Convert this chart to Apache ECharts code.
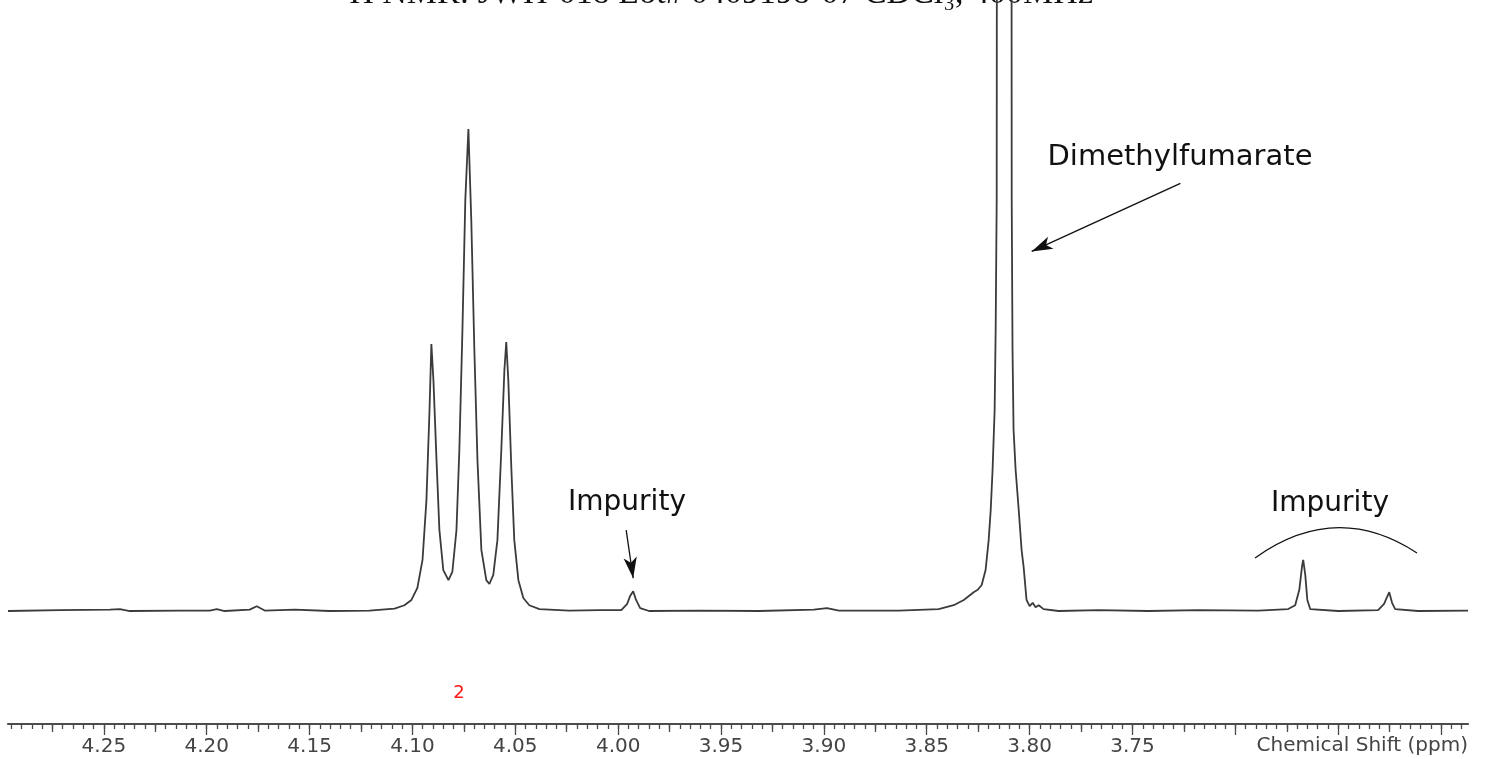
<!DOCTYPE html>
<html>
<head>
<meta charset="utf-8">
<title>1H NMR spectrum</title>
<script src="https://cdn.jsdelivr.net/npm/echarts@6/dist/echarts.min.js"></script>
<style>
  html, body { margin: 0; padding: 0; background: #fff; }
  #chart { width: 1486px; height: 759px; }
</style>
</head>
<body>
<div id="chart"></div>
<script>
// Chemical shift (ppm) of each sampled point of the trace, high field to low
const shiftPpm = [
  4.2966, 4.2714, 4.2471, 4.2422, 4.2374, 4.2131, 4.1985, 4.1951, 4.1913, 4.1791,
  4.1757, 4.1718, 4.1573, 4.1403, 4.1209, 4.1087, 4.1039, 4.1005, 4.0976, 4.0951,
  4.0932, 4.0917, 4.0908, 4.0898, 4.0883, 4.0869, 4.0850, 4.0825, 4.0806, 4.0786,
  4.0772, 4.0757, 4.0743, 4.0728, 4.0714, 4.0699, 4.0684, 4.0665, 4.0641, 4.0626,
  4.0607, 4.0587, 4.0568, 4.0553, 4.0544, 4.0534, 4.0519, 4.0505, 4.0485, 4.0461,
  4.0432, 4.0383, 4.0238, 4.0092, 3.9985, 3.9956, 3.9942, 3.9927, 3.9913, 3.9893,
  3.9850, 3.9607, 3.9316, 3.9049, 3.8985, 3.8927, 3.8636, 3.8442, 3.8369, 3.8320,
  3.8272, 3.8252, 3.8233, 3.8214, 3.8199, 3.8189, 3.8180, 3.8170, 3.8165, 3.8160,
  3.8155, 3.8126, 3.8092, 3.8087, 3.8083, 3.8078, 3.8068, 3.8053, 3.8039, 3.8029,
  3.8015, 3.8000, 3.7985, 3.7971, 3.7956, 3.7932, 3.7859, 3.7665, 3.7422, 3.7180,
  3.6888, 3.6743, 3.6709, 3.6689, 3.6675, 3.6670, 3.6660, 3.6650, 3.6636, 3.6500,
  3.6306, 3.6277, 3.6252, 3.6238, 3.6223, 3.6112, 3.5869
];

// Relative intensity at each point (central triplet line = 100)
const intensity = [
  0.0, 0.2, 0.3, 0.4, 0.0, 0.1, 0.1, 0.4, 0.0, 0.3,
  1.0, 0.1, 0.3, 0.0, 0.1, 0.5, 1.2, 2.3, 4.8, 10.6,
  23.0, 41.7, 55.4, 47.9, 31.3, 16.8, 8.5, 6.4, 8.1, 16.8,
  33.4, 58.3, 85.3, 100.0, 81.1, 54.1, 31.3, 12.7, 6.4, 5.6,
  7.5, 14.7, 33.4, 50.0, 55.8, 47.9, 29.3, 14.7, 6.4, 2.7,
  1.2, 0.4, 0.1, 0.2, 0.2, 1.5, 3.1, 4.1, 2.3, 0.6,
  0.0, 0.1, 0.0, 0.3, 0.6, 0.1, 0.1, 0.4, 1.2, 2.3,
  3.9, 4.4, 5.4, 8.5, 14.7, 21.0, 29.3, 41.7, 58.3, 85.3,
  400.0, 250.0, 420.0, 85.3, 54.1, 37.6, 29.3, 21.0, 12.7, 9.1,
  2.3, 1.0, 1.7, 0.8, 1.2, 0.4, 0.0, 0.2, 0.0, 0.2,
  0.1, 0.4, 1.2, 4.4, 9.5, 10.6, 7.5, 2.3, 0.4, 0.0,
  0.2, 1.5, 3.9, 1.7, 0.4, 0.0, 0.1
];

// Axis ticks and labels
const labelPpm = [4.25, 4.20, 4.15, 4.10, 4.05, 4.00, 3.95, 3.90, 3.85, 3.80, 3.75];
const majorTickPpm = [4.25, 4.20, 4.15, 4.10, 4.05, 4.00, 3.95, 3.90, 3.85, 3.80, 3.75, 3.70, 3.65, 3.60];
const midTickPpm = [4.275, 4.225, 4.175, 4.125, 4.075, 4.025, 3.975, 3.925, 3.875, 3.825, 3.775, 3.725, 3.675, 3.625];
const minorTickPpm = [];
for (let k = 718; k <= 859; k++) minorTickPpm.push(Math.round(k * 5) / 1000);

// Visible shift window and intensity window
const ppmMin = 3.5869;
const ppmMax = 4.2966;
const intMin = -23.44;
const intMax = 126.76;

// Arrow annotations [from, to] in (ppm, intensity)
const arrowFumarate = [[3.7267, 88.7], [3.7990, 74.6]];
const arrowImpurity = [[3.9961, 16.8], [3.9927, 6.8]];

const titleText = '\u00B9H NMR: JWH-018 Lot# 0409198-07 CDCl\u2083, 400MHz';
const integralText = '2';
const axisTitle = 'Chemical Shift (ppm)';

const points = shiftPpm.map((p, i) => [p, intensity[i]]);

const chart = echarts.init(document.getElementById('chart'), null, { renderer: 'canvas' });

const sans = 'DejaVu Sans';
const axisColor = '#4a4a4a';

function tickAxis(values, len, showLabel) {
  return {
    type: 'value',
    inverse: true,
    min: ppmMin,
    max: ppmMax,
    position: 'bottom',
    gridIndex: 0,
    axisLine: { show: true, onZero: false, lineStyle: { color: axisColor, width: 1.6 } },
    axisTick: { show: true, length: len, customValues: values, lineStyle: { color: axisColor, width: 1.3 } },
    axisLabel: showLabel ? {
      show: true,
      customValues: labelPpm,
      formatter: v => v.toFixed(2),
      fontFamily: sans,
      fontSize: 20,
      color: '#444',
      margin: 13
    } : { show: false },
    splitLine: { show: false },
    minorTick: { show: false }
  };
}

chart.setOption({
  animation: false,
  backgroundColor: '#ffffff',
  grid: { left: 8, right: 18, top: 0, bottom: 35, containLabel: false },
  xAxis: [
    tickAxis(majorTickPpm, 11, true),
    tickAxis(midTickPpm, 8, false),
    tickAxis(minorTickPpm, 5, false)
  ],
  yAxis: {
    type: 'value',
    min: intMin,
    max: intMax,
    show: false
  },
  series: [{
    type: 'line',
    xAxisIndex: 0,
    data: points,
    showSymbol: false,
    clip: true,
    lineStyle: { color: '#3b3b3b', width: 1.8 },
    markLine: {
      silent: true,
      symbol: ['none', 'arrow'],
      symbolSize: [10, 21],
      label: { show: false },
      lineStyle: { color: '#111', width: 1.3, type: 'solid' },
      data: [
        [{ coord: arrowFumarate[0] }, { coord: arrowFumarate[1] }],
        [{ coord: arrowImpurity[0] }, { coord: arrowImpurity[1] }]
      ]
    }
  }],
  graphic: [
    {
      type: 'text', x: 716, y: 11,
      style: { text: titleText, font: '34px "Liberation Serif"', fill: '#111', align: 'center', verticalAlign: 'bottom' }
    },
    {
      type: 'text', x: 1180, y: 157,
      style: { text: 'Dimethylfumarate', font: '29px "DejaVu Sans"', fill: '#111', align: 'center', verticalAlign: 'middle' }
    },
    {
      type: 'text', x: 627, y: 503,
      style: { text: 'Impurity', font: '28px "DejaVu Sans"', fill: '#111', align: 'center', verticalAlign: 'middle' }
    },
    {
      type: 'text', x: 1330, y: 504,
      style: { text: 'Impurity', font: '28px "DejaVu Sans"', fill: '#111', align: 'center', verticalAlign: 'middle' }
    },
    {
      type: 'bezierCurve',
      shape: { x1: 1255, y1: 558, cpx1: 1336, cpy1: 500, x2: 1417, y2: 553 },
      style: { stroke: '#111', lineWidth: 1.3, fill: null }
    },
    {
      type: 'text', x: 459, y: 693,
      style: { text: integralText, font: '18px "DejaVu Sans"', fill: '#ff1a1a', align: 'center', verticalAlign: 'middle' }
    },
    {
      type: 'text', x: 1468, y: 746,
      style: { text: axisTitle, font: '20px "DejaVu Sans"', fill: '#444', align: 'right', verticalAlign: 'middle' }
    }
  ]
});
</script>
</body>
</html>
